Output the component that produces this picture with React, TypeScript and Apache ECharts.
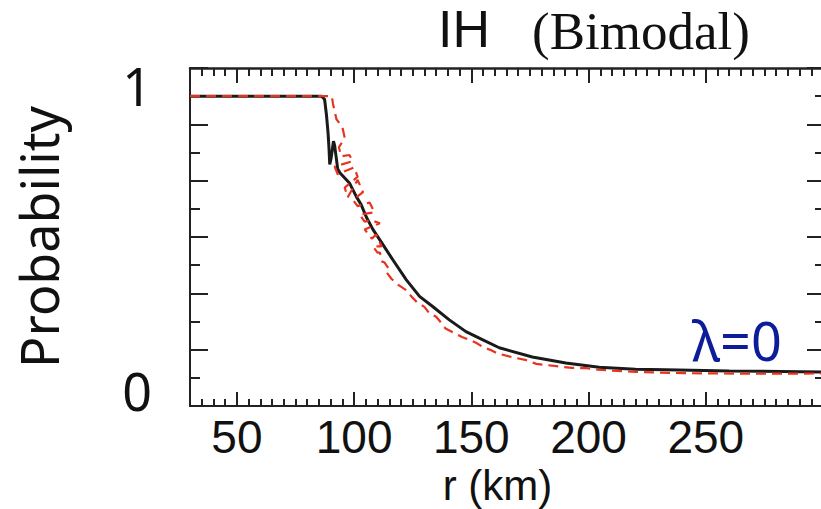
import React, { useEffect, useRef } from "react";
import * as echarts from "echarts";

// r (km) and probability for the black solid curve
const blackR = [30, 86, 87.4, 88.2, 88.9, 89.3, 89.6, 90.2, 91.2, 91.7, 92.4, 93.0, 94, 98, 101, 103, 105.2, 108, 110.9, 116.5, 122.2, 127.9, 133.5, 140.6, 147.7, 154.7, 161.9, 176, 190.3, 204.5, 220, 233, 260, 300];
const blackP = [1.0, 1.0, 0.99, 0.94, 0.88, 0.83, 0.78, 0.8, 0.855, 0.84, 0.8, 0.765, 0.752, 0.72, 0.675, 0.65, 0.61, 0.57, 0.537, 0.472, 0.408, 0.354, 0.321, 0.278, 0.24, 0.214, 0.188, 0.158, 0.139, 0.125, 0.119, 0.117, 0.113, 0.11];

// r (km) and probability for the red dashed (noisy) curve
const redR = [30, 90.5, 91, 92.5, 95, 96, 93.5, 94.5, 98, 99.4, 91.7, 93, 100, 101.5, 96, 97.2, 101.5, 103.8, 99.5, 101.5, 106.6, 108.7, 102.3, 104.5, 107, 111, 104.5, 107.5, 109.5, 111.7, 108, 110, 111, 112, 113, 115, 114, 116, 119, 122, 124.5, 127, 130, 132, 135, 137, 139, 146, 149, 152, 155, 158.5, 161, 167, 173, 177.7, 189, 193, 199, 204, 220, 240, 270, 300];
const redP = [1.0, 1.0, 0.975, 0.925, 0.9, 0.865, 0.835, 0.806, 0.81, 0.79, 0.773, 0.748, 0.77, 0.74, 0.705, 0.673, 0.73, 0.69, 0.665, 0.645, 0.657, 0.625, 0.618, 0.595, 0.6, 0.59, 0.57, 0.54, 0.553, 0.515, 0.515, 0.495, 0.495, 0.466, 0.463, 0.44, 0.43, 0.41, 0.39, 0.375, 0.353, 0.333, 0.32, 0.3, 0.288, 0.27, 0.25, 0.223, 0.214, 0.204, 0.19, 0.18, 0.17, 0.158, 0.149, 0.136, 0.126, 0.123, 0.122, 0.117, 0.11, 0.106, 0.104, 0.105];

const xTickLabels = ["50", "100", "150", "200", "250"];
const yTickLabels = ["0", "1"];

const X_MIN = 30;
const X_MAX = 300;
const Y_STEP = 1 / 11;
const Y_MAX = 12 / 11;

export default function App() {
  const ref = useRef<HTMLDivElement>(null);
  useEffect(() => {
    if (!ref.current) return;
    const chart = echarts.init(ref.current, undefined, { renderer: "svg" });
    const axisColor = "#222";
    const xAxisCommon = {
      type: "value",
      min: X_MIN,
      max: X_MAX,
      splitLine: { show: false },
      minorSplitLine: { show: false },
    };
    const option: any = {
      animation: false,
      backgroundColor: "#fff",
      title: [
        {
          text: "IH",
          left: 433,
          top: -2,
          textStyle: { fontFamily: "Liberation Sans", fontSize: 52, fontWeight: "normal", color: "#111" },
        },
        {
          text: "(Bimodal)",
          left: 527,
          top: -1,
          textStyle: { fontFamily: "Liberation Serif", fontSize: 53, fontWeight: "normal", color: "#111" },
        },
      ],
      graphic: [
        {
          type: "text",
          left: 692,
          top: 313,
          style: { text: "λ=0", fill: "#0d1d9a", fontSize: 54, fontFamily: "Noto Sans" },
        },
      ],
      grid: { left: 190, top: 68, right: -2, bottom: 103, containLabel: false, outerBoundsMode: "none" },
      xAxis: [
        {
          ...xAxisCommon,
          position: "bottom",
          axisLine: { show: true, onZero: false, lineStyle: { color: axisColor, width: 2 } },
          axisTick: { show: true, inside: true, length: 14, lineStyle: { color: axisColor, width: 2 } },
          minorTick: { show: true, splitNumber: 10, length: 7, lineStyle: { color: axisColor, width: 2 } },
          axisLabel: {
            show: true,
            margin: 8,
            fontSize: 46,
            fontFamily: "Liberation Sans",
            color: "#111",
            formatter: (v: number) => (xTickLabels.includes(String(v)) ? String(v) : ""),
          },
          name: "r (km)",
          nameLocation: "middle",
          nameGap: 52,
          nameTextStyle: { fontSize: 42, fontFamily: "Liberation Sans", color: "#111", padding: [0, 18, 0, 0] },
        },
        {
          ...xAxisCommon,
          position: "top",
          axisLine: { show: true, onZero: false, lineStyle: { color: axisColor, width: 2.5 } },
          axisTick: { show: true, inside: true, length: 15, lineStyle: { color: axisColor, width: 2 } },
          minorTick: { show: true, splitNumber: 10, length: 8, lineStyle: { color: axisColor, width: 2 } },
          axisLabel: { show: false },
        },
      ],
      yAxis: [
        {
          type: "value",
          min: 0,
          max: Y_MAX,
          interval: 2 * Y_STEP,
          position: "left",
          splitLine: { show: false },
          axisLine: { show: true, onZero: false, lineStyle: { color: axisColor, width: 2 } },
          axisTick: { show: true, inside: true, length: 18, lineStyle: { color: axisColor, width: 2 } },
          minorTick: { show: true, splitNumber: 2, length: 10, lineStyle: { color: axisColor, width: 2 } },
          axisLabel: { show: false },
          name: "Probability",
          nameLocation: "middle",
          nameGap: 126,
          nameRotate: 90,
          nameTextStyle: { fontSize: 52, fontFamily: "Noto Sans", color: "#111" },
        },
        {
          type: "value",
          min: 0,
          max: Y_MAX,
          interval: 2 * Y_STEP,
          position: "right",
          splitLine: { show: false },
          axisLine: { show: true, onZero: false, lineStyle: { color: axisColor, width: 2 } },
          axisTick: { show: true, inside: true, length: 16, lineStyle: { color: axisColor, width: 2 } },
          minorTick: { show: true, splitNumber: 2, length: 8, lineStyle: { color: axisColor, width: 2 } },
          axisLabel: { show: false },
        },
        {
          type: "value",
          min: 0,
          max: Y_MAX,
          interval: Y_STEP,
          position: "left",
          splitLine: { show: false },
          axisLine: { show: false, onZero: false },
          axisTick: { show: false },
          axisLabel: {
            show: true,
            margin: 38,
            fontSize: 52,
            fontFamily: "Noto Sans",
            color: "#111",
            formatter: (v: number) => {
              if (Math.abs(v) < 1e-6) return "{z|" + yTickLabels[0] + "}";
              if (Math.abs(v - 1) < 1e-6) return "{o|" + yTickLabels[1] + "}";
              return "";
            },
            rich: {
              z: { fontSize: 52, fontFamily: "Noto Sans", color: "#111", padding: [0, 0, 32, 0] },
              o: { fontSize: 52, fontFamily: "Noto Sans", color: "#111", padding: [0, 0, 22, 0] },
            },
          },
        },
      ],
      series: [
        {
          type: "line",
          xAxisIndex: 0,
          yAxisIndex: 0,
          data: blackR.map((r, i) => [r, blackP[i]]),
          showSymbol: false,
          lineStyle: { color: "#1a1a1a", width: 3 },
          z: 2,
        },
        {
          type: "line",
          xAxisIndex: 0,
          yAxisIndex: 0,
          data: redR.map((r, i) => [r, redP[i]]),
          showSymbol: false,
          lineStyle: { color: "#e8331f", width: 2.2, type: [10, 6] },
          z: 3,
        },
      ],
    };
    chart.setOption(option);
    return () => chart.dispose();
  }, []);
  return (
    <div
      ref={ref}
      style={{ position: "fixed", left: 0, top: 0, width: 821, height: 509, background: "#fff" }}
    />
  );
}
